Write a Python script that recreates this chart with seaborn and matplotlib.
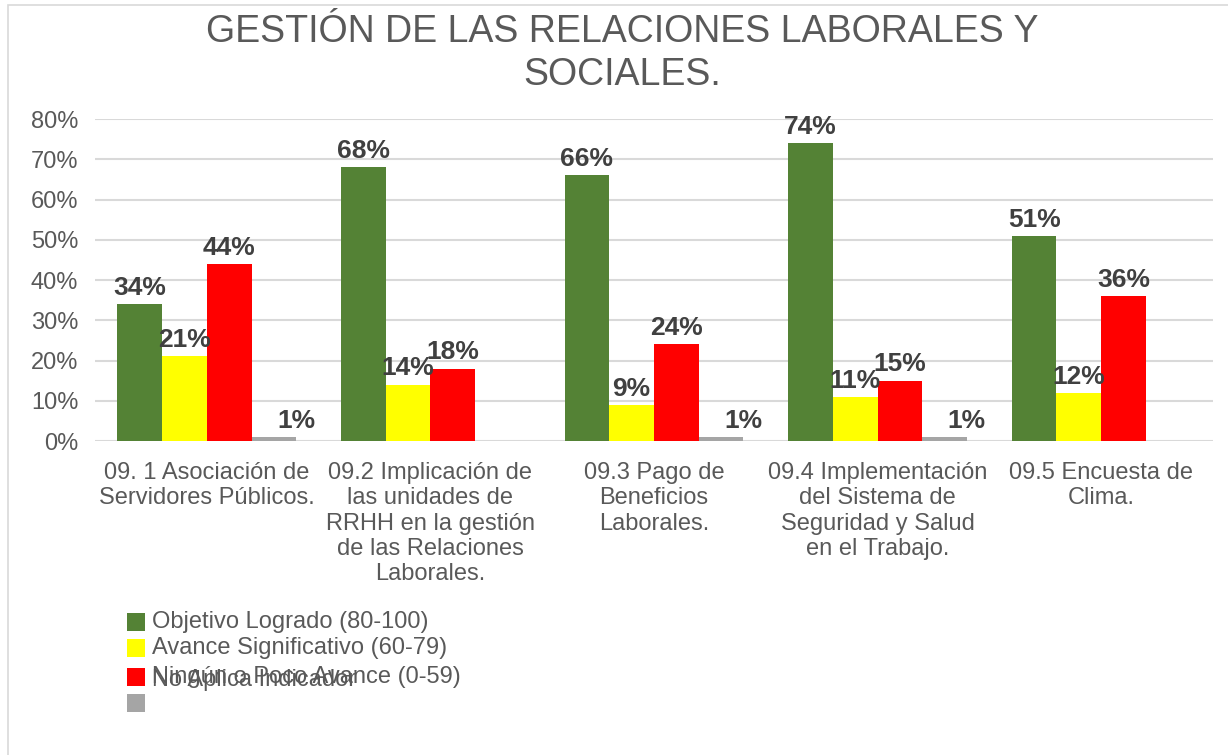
import pandas as pd
import matplotlib.pyplot as plt
import seaborn as sns
from matplotlib.patches import Rectangle

# ── Data ──────────────────────────────────────────────────────────────────────
categorias = [
    "09. 1 Asociación de\nServidores Públicos.",
    "09.2 Implicación de\nlas unidades de\nRRHH en la gestión\nde las Relaciones\nLaborales.",
    "09.3 Pago de\nBeneficios\nLaborales.",
    "09.4 Implementación\ndel Sistema de\nSeguridad y Salud\nen el Trabajo.",
    "09.5 Encuesta de\nClima.",
]
series = [
    "Objetivo Logrado (80-100)",
    "Avance Significativo (60-79)",
    "Ningún o Poco Avance (0-59)",
    "No Aplica Indicador",
]
objetivo_logrado = [34, 68, 66, 74, 51]
avance_significativo = [21, 14, 9, 11, 12]
poco_avance = [44, 18, 24, 15, 36]
no_aplica = [1, None, 1, 1, None]
colores = ["#548235", "#FFFF00", "#FF0000", "#A5A5A5"]

rows = []
for serie, vals in zip(series, [objetivo_logrado, avance_significativo, poco_avance, no_aplica]):
    for cat, v in zip(categorias, vals):
        if v is not None:
            rows.append({"cat": cat, "serie": serie, "valor": v})
df = pd.DataFrame(rows)

# ── Style ─────────────────────────────────────────────────────────────────────
sns.set_style("white")
plt.rcParams["font.family"] = ["Liberation Sans", "DejaVu Sans"]
txt = "#595959"

fig = plt.figure(figsize=(12.28, 7.55), dpi=100)
ax = fig.add_axes([95 / 1228, 1 - 441 / 755, (1213 - 95) / 1228, (441 - 119) / 755])

sns.barplot(data=df, x="cat", y="valor", hue="serie", order=categorias,
            hue_order=series, palette=colores, saturation=1, width=0.8,
            errorbar=None, linewidth=0, legend=False, ax=ax)

ax.set_ylim(0, 80)
ax.set_xlim(-0.5, len(categorias) - 0.5)
ax.set_yticks(range(0, 81, 10))
ax.set_yticklabels([f"{t}%" for t in range(0, 81, 10)])
ax.yaxis.grid(True, color="#D9D9D9", linewidth=1.5)
ax.set_axisbelow(True)
for s in ax.spines.values():
    s.set_visible(False)
ax.tick_params(axis="both", length=0, labelsize=17, labelcolor=txt)
ax.tick_params(axis="x", pad=15)
ax.tick_params(axis="y", pad=12)
ax.set_xlabel("")
ax.set_ylabel("")

# value labels
for i, cont in enumerate(ax.containers):
    dx = 16 if i == 3 else 0
    for bar in cont:
        h = bar.get_height()
        if pd.isna(h):
            continue
        ax.annotate(f"{h:.0f}%", (bar.get_x() + bar.get_width() / 2, h),
                    xytext=(dx, 3), textcoords="offset points",
                    ha="center", va="bottom", fontsize=19,
                    fontweight="bold", color="#404040")

# ── Title ─────────────────────────────────────────────────────────────────────
fig.text(622 / 1228, 1 - 14 / 755,
         "GESTIÓN DE LAS RELACIONES LABORALES Y\nSOCIALES.",
         ha="center", va="top", fontsize=27, color=txt, linespacing=1.25)

# ── Legend (drawn manually, as in the source, with overlapping entries) ──────
leg_y = [622, 648, 677, 703]
for c, y in zip(colores, leg_y):
    fig.add_artist(Rectangle((127 / 1228, 1 - (y + 9) / 755), 18 / 1228, 18 / 755,
                             transform=fig.transFigure, color=c, lw=0))
for lab, y in zip(series[:3], leg_y[:3]):
    fig.text(152 / 1228, 1 - y / 755, lab, ha="left", va="center",
             fontsize=17, color=txt)
fig.text(152 / 1228, 1 - 680 / 755, series[3], ha="left", va="center",
         fontsize=17, color=txt)

# chart frame
fig.add_artist(Rectangle((8 / 1228, -0.1), 1.2, 1 - 5 / 755 + 0.1,
                         transform=fig.transFigure, fill=False,
                         edgecolor="#D9D9D9", lw=1.2))

plt.savefig("out.png", dpi=100)
plt.close()
